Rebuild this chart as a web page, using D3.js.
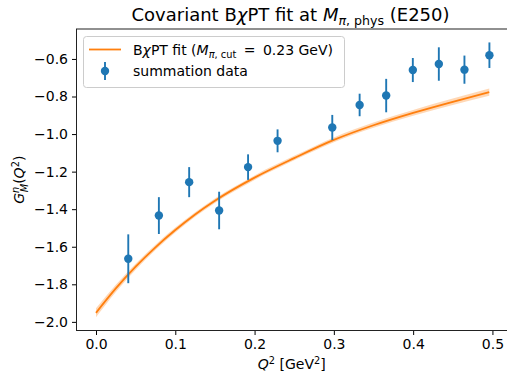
<!DOCTYPE html>
<html>
<head>
<meta charset="utf-8"/>
<title>Covariant BChPT fit</title>
<script src="https://d3js.org/d3.v7.min.js"></script>
<style>
	body{margin:0;background:#fff;}
	svg text{font-family:"DejaVu Sans",sans-serif;fill:#000;}
</style>
</head>
<body>
<div id="well"></div>
<script>
	// summation data
	var dataQ2 = [0.0407, 0.0793, 0.1175, 0.1553, 0.1918, 0.229, 0.298, 0.3325, 0.366, 0.3996, 0.4324, 0.4647, 0.4962];
	var dataG = [-1.664, -1.434, -1.256, -1.407, -1.176, -1.036, -0.965, -0.845, -0.795, -0.659, -0.627, -0.657, -0.580];
	var dataErr = [0.13, 0.098, 0.08, 0.10, 0.068, 0.061, 0.067, 0.06, 0.089, 0.064, 0.089, 0.075, 0.068];

	// fit curve and its band
	var fitQ2 = [0, 0.025, 0.05, 0.075, 0.1, 0.125, 0.15, 0.2, 0.25, 0.3, 0.35, 0.4, 0.45, 0.496];
	var fitG = [-1.952, -1.822, -1.706, -1.603, -1.511, -1.428, -1.355, -1.232, -1.128, -1.031, -0.953, -0.887, -0.828, -0.777];
	var fitErr = [0.024, 0.019, 0.016, 0.014, 0.013, 0.012, 0.012, 0.012, 0.012, 0.013, 0.014, 0.015, 0.017, 0.019];

	var xTicks = [0.0, 0.1, 0.2, 0.3, 0.4, 0.5];
	var yTicks = [-2.0, -1.8, -1.6, -1.4, -1.2, -1.0, -0.8, -0.6];

	var blue = '#1f77b4', orange = '#ff7f0e';
	var width = 507, height = 374;
	var mLeft = 76.5, mRight = 509, mTop = 29, mBottom = 330.5;
	var fs = 14, fsSub = 9.8;

	var x = d3.scaleLinear().domain([-0.0246, 0.5209]).range([mLeft, mRight]);
	var y = d3.scaleLinear().domain([-2.046, -0.4405]).range([mBottom, mTop]);

	var svg = d3.select('#well').append('svg')
		.attr('width', width)
		.attr('height', height);

	// band + line
	var fit = fitQ2.map(function(q, i){ return {q: q, g: fitG[i], e: fitErr[i]}; });
	svg.append('path')
		.datum(fit)
		.attr('fill', orange)
		.attr('fill-opacity', 0.3)
		.attr('d', d3.area().curve(d3.curveMonotoneX)
			.x(function(d){ return x(d.q); })
			.y0(function(d){ return y(d.g - d.e); })
			.y1(function(d){ return y(d.g + d.e); }));
	svg.append('path')
		.datum(fit)
		.attr('fill', 'none')
		.attr('stroke', orange)
		.attr('stroke-width', 1.8)
		.attr('d', d3.line().curve(d3.curveMonotoneX)
			.x(function(d){ return x(d.q); })
			.y(function(d){ return y(d.g); }));

	// error bars + points
	var pts = svg.append('g').selectAll('g')
		.data(dataQ2.map(function(q, i){ return {q: q, g: dataG[i], e: dataErr[i]}; }))
		.enter().append('g');
	pts.append('line')
		.attr('x1', function(d){ return x(d.q); })
		.attr('x2', function(d){ return x(d.q); })
		.attr('y1', function(d){ return y(d.g - d.e); })
		.attr('y2', function(d){ return y(d.g + d.e); })
		.attr('stroke', blue)
		.attr('stroke-width', 1.9);
	pts.append('circle')
		.attr('cx', function(d){ return x(d.q); })
		.attr('cy', function(d){ return y(d.g); })
		.attr('r', 4.2)
		.attr('fill', blue);

	// axes
	var fmt = d3.format('.1f');
	var xAxis = svg.append('g')
		.attr('transform', 'translate(0,' + mBottom + ')')
		.call(d3.axisBottom(x).tickValues(xTicks).tickFormat(fmt).tickSizeInner(4.5).tickSizeOuter(0).tickPadding(4));
	var yAxis = svg.append('g')
		.attr('transform', 'translate(' + mLeft + ',0)')
		.call(d3.axisLeft(y).tickValues(yTicks).tickFormat(fmt).tickSizeInner(4.5).tickSizeOuter(0).tickPadding(4));
	[xAxis, yAxis].forEach(function(a){
		a.selectAll('text').attr('font-size', fs).attr('font-family', '"DejaVu Sans",sans-serif').attr('fill', '#000');
		a.selectAll('.tick line').attr('stroke', '#000').attr('stroke-width', 1);
		a.select('.domain').remove();
	});

	// frame
	svg.append('rect')
		.attr('x', mLeft).attr('y', mTop)
		.attr('width', mRight - mLeft).attr('height', mBottom - mTop)
		.attr('fill', 'none')
		.attr('stroke', '#222')
		.attr('stroke-width', 1);

	// title
	var title = svg.append('text')
		.attr('x', 131.5)
		.attr('y', 21)
		.attr('font-size', 18);
	title.append('tspan').text('Covariant B');
	title.append('tspan').attr('font-style', 'italic').text('χ');
	title.append('tspan').text('PT fit at ');
	title.append('tspan').attr('font-style', 'italic').text('M');
	title.append('tspan').attr('font-size', 12.6).attr('dy', 4).attr('font-style', 'italic').text('π');
	title.append('tspan').attr('font-size', 12.6).text(', phys');
	title.append('tspan').attr('dy', -4).text(' (E250)');

	// axis labels
	var xl = svg.append('text')
		.attr('x', (mLeft + mRight) / 2 - 1)
		.attr('y', 369)
		.attr('text-anchor', 'middle')
		.attr('font-size', fs);
	xl.append('tspan').attr('font-style', 'italic').text('Q');
	xl.append('tspan').attr('font-size', fsSub).attr('dy', -5.5).text('2');
	xl.append('tspan').attr('dy', 5.5).text(' [GeV');
	xl.append('tspan').attr('font-size', fsSub).attr('dy', -5.5).text('2');
	xl.append('tspan').attr('dy', 5.5).text(']');

	var yl = svg.append('text')
		.attr('transform', 'translate(24,' + ((mTop + mBottom) / 2) + ') rotate(-90)')
		.attr('text-anchor', 'middle')
		.attr('font-size', fs);
	yl.append('tspan').attr('font-style', 'italic').text('G');
	yl.append('tspan').attr('font-style', 'italic').attr('font-size', fsSub).attr('dy', -5.5).text('n');
	yl.append('tspan').attr('font-style', 'italic').attr('font-size', fsSub).attr('dx', -5.5).attr('dy', 9).text('M');
	yl.append('tspan').attr('dy', -3.5).text('(');
	yl.append('tspan').attr('font-style', 'italic').text('Q');
	yl.append('tspan').attr('font-size', fsSub).attr('dy', -5.5).text('2');
	yl.append('tspan').attr('dy', 5.5).text(')');

	// legend
	var lg = svg.append('g');
	lg.append('rect')
		.attr('x', 83.5).attr('y', 36.5)
		.attr('width', 261).attr('height', 51)
		.attr('rx', 3)
		.attr('fill', '#fff').attr('fill-opacity', 0.8)
		.attr('stroke', '#ccc').attr('stroke-width', 1);
	lg.append('line')
		.attr('x1', 89).attr('x2', 121).attr('y1', 49.5).attr('y2', 49.5)
		.attr('stroke', orange).attr('stroke-width', 1.8);
	lg.append('line')
		.attr('x1', 105).attr('x2', 105).attr('y1', 62).attr('y2', 80)
		.attr('stroke', blue).attr('stroke-width', 1.9);
	lg.append('circle')
		.attr('cx', 105).attr('cy', 71).attr('r', 4.2).attr('fill', blue);
	var t1 = lg.append('text').attr('x', 133).attr('y', 54.5).attr('font-size', fs);
	t1.append('tspan').text('B');
	t1.append('tspan').attr('font-style', 'italic').text('χ');
	t1.append('tspan').text('PT fit (');
	t1.append('tspan').attr('font-style', 'italic').text('M');
	t1.append('tspan').attr('font-size', fsSub).attr('dy', 3).attr('font-style', 'italic').text('π');
	t1.append('tspan').attr('font-size', fsSub).text(', cut');
	t1.append('tspan').attr('dy', -3).attr('dx', 3).text(' =');
	t1.append('tspan').attr('dx', 3).text(' 0.23 GeV)');
	lg.append('text').attr('x', 133).attr('y', 76).attr('font-size', fs).text('summation data');
</script>
</body>
</html>
